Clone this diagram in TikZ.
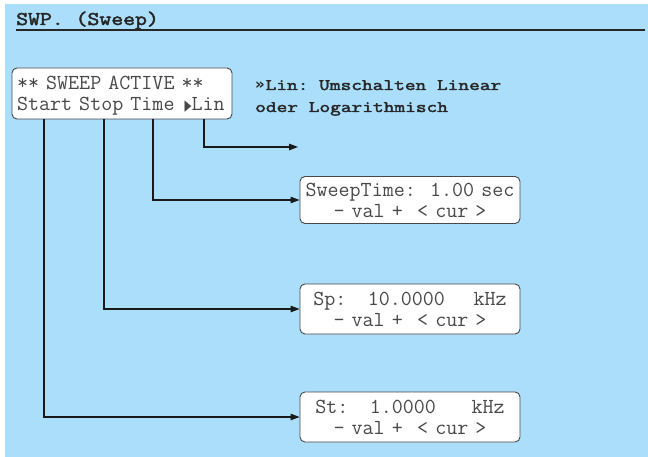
\documentclass[tikz,border=0pt]{standalone}
\usepackage{fontspec}
\usepackage{tikz}
\usetikzlibrary{arrows.meta,positioning}
\newfontfamily\lcdfont{Latin Modern Mono}
\newfontfamily\titlefont[FakeStretch=1.19,FakeBold=2.5]{Latin Modern Mono}
\newfontfamily\notefont[FakeStretch=1.3,FakeBold=2.5]{Latin Modern Mono}
\newfontfamily\symfont{DejaVu Sans}
\definecolor{panelblue}{RGB}{170,222,250}
\definecolor{lcdgray}{RGB}{72,72,72}
\newcommand{\playmark}{\makebox[10pt][r]{\symfont\fontsize{15}{15}\selectfont\scalebox{0.6}[1]{▶}}}
\newcommand{\quotemark}{\makebox[10.4pt][l]{\symfont\bfseries\fontsize{15}{15}\selectfont »}}
\frenchspacing

\begin{document}
\begin{tikzpicture}[x=1pt,y=-1pt,
  lcd/.style={draw=lcdgray,fill=white,rounded corners=5pt,line width=0.9pt,
              minimum width=220pt,minimum height=50pt,inner xsep=3pt,inner ysep=0pt,
              text width=214pt,font=\lcdfont\fontsize{21.4}{21}\selectfont,text=lcdgray,
              execute at begin node=\rule{0pt}{20pt},
              execute at end node=\rule[-6pt]{0pt}{6pt}},
  conn/.style={-{Triangle[length=9pt,width=6.5pt]},line width=1.1pt,black!90}]
\useasboundingbox (0,0) rectangle (648,457);
\fill[panelblue] (5,4) rectangle (648,457);
\node[anchor=base west,inner sep=0pt,font=\titlefont\fontsize{19.4}{20}\selectfont,text=black!85]
  (title) at (16,25) {SWP. (Sweep)};
\draw[line width=1.5pt,black!85] (16,30) -- (645,30);
\node[lcd,align=left,minimum height=51pt,inner xsep=5pt,text width=210pt] (lcd) at (122,93.5)
  {** SWEEP ACTIVE **\\Start Stop Time \playmark Lin};
\node[anchor=base west,inner sep=0pt,align=left,text=black!85,
      font=\notefont\fontsize{16}{22}\selectfont] (note) at (255,112)
  {\quotemark Lin: Umschalten Linear\\oder Logarithmisch};
\node[lcd,align=center,minimum height=47pt] (time) at (410,200)
  {SweepTime:~~1.00~sec\\- val +~~< cur >};
\node[lcd,align=center] (sp) at (410,309)
  {Sp:~~~10.0000~~~~kHz\\- val +~~< cur >};
\node[lcd,align=center] (st) at (410,417)
  {St:~~~1.0000~~~~~kHz\\- val +~~< cur >};
\coordinate (linend) at (298,147);
\draw[conn] (lcd.south -| 204,0) |- (linend);
\foreach \x/\n in {153/time,104/sp,44/st}{\draw[conn] (lcd.south -| \x,0) |- (\n.west);}
\end{tikzpicture}
\end{document}
